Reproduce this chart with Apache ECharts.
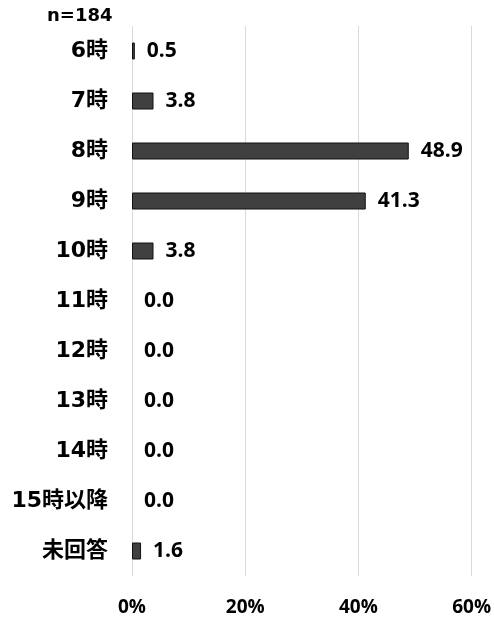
<!DOCTYPE html>
<html><head><meta charset="utf-8">
<script src="https://cdn.jsdelivr.net/npm/echarts@6/dist/echarts.min.js"></script>
<style>html,body{margin:0;padding:0;background:#fff}#c{width:494px;height:617px}</style>
</head><body><div id="c"></div>
<script>
const categories = ["6時","7時","8時","9時","10時","11時","12時","13時","14時","15時以降","未回答"];
const values = [0.5,3.8,48.9,41.3,3.8,0.0,0.0,0.0,0.0,0.0,1.6];
const xTicks = [0,20,40,60];
const sampleLabel = "n=184";

const chart = echarts.init(document.getElementById('c'));
const jp = '"DejaVu Sans", "Noto Sans CJK JP", sans-serif';
const num = '"Open Sans", sans-serif';
chart.setOption({
  animation:false,
  backgroundColor:'#fff',
  graphic:[{type:'text',left:47,top:7,style:{text:sampleLabel,font:'bold 18px "DejaVu Sans", sans-serif',fill:'#000'}}],
  grid:{left:132,right:22,top:26,bottom:38,containLabel:false},
  xAxis:{type:'value',min:xTicks[0],max:xTicks[xTicks.length-1],interval:20,
    axisLine:{show:false},axisTick:{show:false},
    splitLine:{show:true,lineStyle:{color:'#d9d9d9',width:1}},
    axisLabel:{formatter:v=>v+'%',color:'#000',fontWeight:'bold',fontSize:19,fontFamily:num,margin:22}},
  yAxis:{type:'category',data:categories,inverse:true,
    axisLine:{show:false},axisTick:{show:false},
    axisLabel:{color:'#000',fontWeight:'bold',fontSize:22,fontFamily:jp,margin:24}},
  series:[{type:'bar',barWidth:17,
    data:values.map(v=>({value:v,itemStyle:{borderWidth:v>0?1:0}})),
    itemStyle:{color:'#404040',borderColor:'#111'},
    label:{show:true,position:'right',distance:12,formatter:p=>p.value.toFixed(1),
      color:'#000',fontWeight:'bold',fontSize:21,fontFamily:num}}]
});
</script></body></html>
